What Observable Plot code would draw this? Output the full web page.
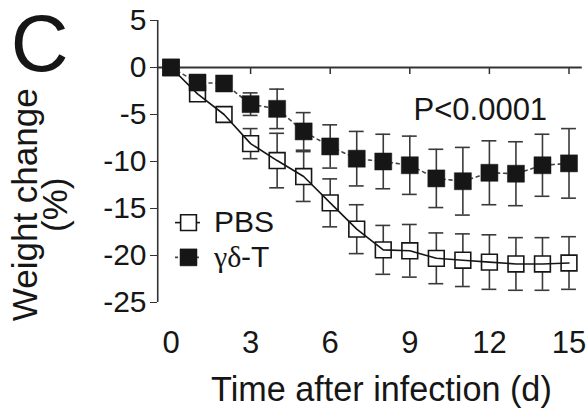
<!DOCTYPE html>
<html>
<head>
<meta charset="utf-8">
<script src="https://cdn.jsdelivr.net/npm/d3@7"></script>
<script src="https://cdn.jsdelivr.net/npm/@observablehq/plot@0.6"></script>
<style>
  body { margin: 0; background: #fff; }
  #chart svg { display: block; }
  g[aria-label="y-title"] text { letter-spacing: 1.4px; }
</style>
</head>
<body>
<div id="chart"></div>
<script>
// ---- data ----
const days = [0, 1, 2, 3, 4, 5, 6, 7, 8, 9, 10, 11, 12, 13, 14, 15];
const pbsMean = [0, -2.8, -5.0, -8.1, -9.9, -11.6, -14.4, -17.2, -19.4, -19.5, -20.3, -20.5, -20.7, -20.9, -20.9, -20.8];
const pbsErr  = [0, 0.6, 0.8, 1.6, 2.9, 2.65, 2.55, 2.6, 2.6, 2.8, 2.7, 2.8, 2.9, 2.8, 2.8, 2.8];
const gdMean  = [0, -1.6, -1.7, -3.9, -4.4, -6.8, -8.4, -9.7, -10.0, -10.4, -11.8, -12.1, -11.2, -11.3, -10.4, -10.2];
const gdErr   = [0, 0.5, 0.6, 1.2, 2.1, 2.0, 2.3, 2.9, 2.9, 3.1, 3.1, 3.6, 3.4, 3.4, 3.3, 3.7];
const seriesNames = ["PBS", "\u03b3\u03b4-T"];
const xTicks = [0, 3, 6, 9, 12, 15];
const yTicks = [5, 0, -5, -10, -15, -20, -25];
const panelLetter = "C";
const pValue = "P<0.0001";
const xTitle = "Time after infection (d)";
const yTitleLines = ["Weight change", "(%)"];

// ---- tables built from the arrays ----
const pbs = days.map((d, i) => ({day: d, mean: pbsMean[i], err: pbsErr[i]}));
const gd  = days.map((d, i) => ({day: d, mean: gdMean[i], err: gdErr[i]}));

// ---- layout options (annotation anchors, in scale units) ----
const cap = 0.28;
const ink = "#161616";
const barInk = "#3a3a3a";
const font = "'Liberation Sans', Arial, Helvetica, sans-serif";
const leg = {lineX1: 0.17, lineX2: 1.11, symX: 0.66, textX: 1.62, y: [-16.5, -20.2]};

function errorBars(data) {
  return [
    Plot.ruleX(data, {x: "day", y1: d => d.mean - d.err, y2: d => d.mean + d.err, stroke: barInk, strokeWidth: 1.6}),
    Plot.ruleY(data, {y: d => d.mean + d.err, x1: d => d.day - cap, x2: d => d.day + cap, stroke: barInk, strokeWidth: 1.6}),
    Plot.ruleY(data, {y: d => d.mean - d.err, x1: d => d.day - cap, x2: d => d.day + cap, stroke: barInk, strokeWidth: 1.6})
  ];
}

const chart = Plot.plot({
  width: 588,
  height: 410,
  marginLeft: 157,
  marginRight: 0,
  marginTop: 20,
  marginBottom: 80,
  style: {fontFamily: font, background: "#fff", color: ink, overflow: "visible"},
  x: {domain: [0, 15], range: [170.5, 568.5]},
  y: {domain: [-25, 5], range: [302, 20]},
  marks: [
    // axes
    Plot.ruleX([-0.5], {y1: -25, y2: 5, stroke: "#333", strokeWidth: 1.6}),
    Plot.ruleY([0], {x1: -0.5, x2: 15.5, stroke: "#333", strokeWidth: 1.8}),
    Plot.ruleX(xTicks, {y1: 0, y2: -0.75, stroke: "#333", strokeWidth: 1.5}),
    Plot.axisY(yTicks, {tickSize: 7, tickPadding: 4, fontSize: 30, label: null, stroke: "#333", tickFormat: d => String(d)}),
    Plot.axisX(xTicks, {tickSize: 0, tickPadding: 0, fontSize: 31, label: null, tickFormat: d => String(d)}),

    // PBS series
    ...errorBars(pbs),
    Plot.dot(pbs, {x: "day", y: "mean", symbol: "square", r: 8.9, fill: "white", stroke: ink, strokeWidth: 1.6}),
    Plot.line(pbs, {x: "day", y: "mean", stroke: ink, strokeWidth: 1.6}),

    // gamma-delta T series
    ...errorBars(gd),
    Plot.line(gd, {x: "day", y: "mean", stroke: "#444", strokeWidth: 1.6, strokeDasharray: "3,4"}),
    Plot.dot(gd, {x: "day", y: "mean", symbol: "square", r: 9.6, fill: ink, stroke: ink, strokeWidth: 0.5}),

    // legend
    Plot.ruleY([leg.y[0]], {x1: leg.lineX1, x2: leg.lineX2, stroke: ink, strokeWidth: 1.6}),
    Plot.dot([leg.y[0]], {x: leg.symX, y: d => d, symbol: "square", r: 8.9, fill: "white", stroke: ink, strokeWidth: 1.6}),
    Plot.ruleY([leg.y[1]], {x1: leg.lineX1, x2: leg.lineX2, stroke: "#444", strokeWidth: 1.6, strokeDasharray: "3,4"}),
    Plot.dot([leg.y[1]], {x: leg.symX, y: d => d, symbol: "square", r: 9.6, fill: ink, stroke: ink, strokeWidth: 0.5}),
    Plot.text([seriesNames[0]], {x: leg.textX, y: leg.y[0], textAnchor: "start", fontSize: 30, fill: ink}),
    Plot.text([seriesNames[1].slice(0, 2)], {x: leg.textX, y: leg.y[1], textAnchor: "start", fontSize: 30, fill: ink,
      fontFamily: "'Liberation Serif', 'Times New Roman', serif"}),
    Plot.text([seriesNames[1].slice(2)], {x: leg.textX, y: leg.y[1], dx: 27, textAnchor: "start", fontSize: 30, fill: ink}),

    // annotations
    Plot.text([pValue], {x: 9.14, y: -4.5, textAnchor: "start", fontSize: 31, fill: ink}),
    Plot.text([panelLetter], {x: -4.95, y: 2.3, fontSize: 80, fill: ink}),
    Plot.text([xTitle], {x: 7.93, y: -34.3, fontSize: 34.2, fill: ink}),
    Plot.text([yTitleLines.join("\n")], {x: -4.85, y: -14.6, fontSize: 35, lineHeight: 0.86,
      rotate: -90, fill: ink, ariaLabel: "y-title"})
  ]
});
document.getElementById("chart").appendChild(chart);
</script>
</body>
</html>
